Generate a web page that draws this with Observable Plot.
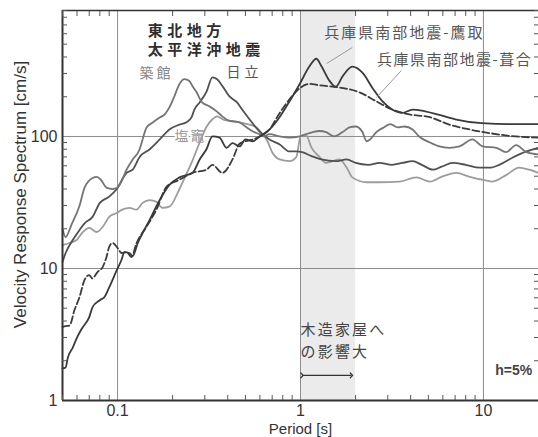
<!DOCTYPE html>
<html><head><meta charset="utf-8">
<script src="https://cdn.jsdelivr.net/npm/d3@7"></script>
<script src="https://cdn.jsdelivr.net/npm/@observablehq/plot@0.6"></script>
<style>
body{margin:0;background:#fff;}
#chart svg{display:block;}
</style></head><body><div id="chart"></div>
<script>
// axes
const xDomain = [0.05, 20];
const yDomain = [1, 900];
const xTickValues = [0.1, 1, 10];
const yTickValues = [1, 10, 100];
const xGridValues = [0.1, 1, 10];
const yGridValues = [10, 100];
const band = [1, 2];

// 築館 (Tsukidate)
const tsukidateT = [0.05,0.052,0.056,0.062,0.066,0.073,0.077,0.081,0.087,0.094,0.1,0.106,0.112,0.121,0.132,0.137,0.144,0.155,0.17,0.181,0.192,0.204,0.218,0.232,0.247,0.257,0.27,0.29,0.318,0.348,0.374,0.409,0.464,0.5,0.55,0.597,0.63,0.677,0.77,0.87,0.99,1.07,1.17,1.27,1.38,1.53,1.7,1.85,2.0,2.18,2.3,2.4,2.6,2.85,3.1,3.4,3.7,4.1,4.45,5.1,5.75,6.5,7.4,8.7,9.9,11.8,13.3,15.1,17.2,20];
const tsukidateV = [20,17.3,21.5,30,41,48.5,49.5,47,41,40,41,47,56,67,80,95,117,127,139,147,166,200,250,272,263,240,217,181,169,155,142,131,128,119,109,104,100,104,100,98,100,104,108,110,108,100,108,117,119,108,92,95,108,117,124,117,119,113,100,90,84,82,84,95,84,82,76,86,76,73];

// 日立 (Hitachi)
const hitachiT = [0.05,0.052,0.057,0.062,0.066,0.073,0.08,0.09,0.099,0.112,0.121,0.132,0.15,0.17,0.192,0.218,0.238,0.254,0.263,0.281,0.306,0.33,0.35,0.374,0.409,0.45,0.48,0.526,0.597,0.677,0.77,0.87,0.95,1.02,1.15,1.3,1.56,1.79,2.0,2.35,2.7,3.17,3.6,4.1,4.6,5.3,5.9,6.8,8.0,9.5,10.8,12.2,14.4,17.2,20];
const hitachiV = [11.2,13.1,16.5,19.6,22,24.6,31.4,35,40,53,56,70,80,95,113,123,128,140,160,181,218,280,271,241,201,181,160,135,109,95,87,77,77,76,71,67,65,67,63,61,63,61,63,65,61,56,59,63,61,58,58,61,69,77,82];

// 塩竈 (Shiogama)
const shiogamaT = [0.05,0.0547,0.06,0.064,0.07,0.077,0.083,0.09,0.099,0.106,0.116,0.127,0.137,0.15,0.163,0.176,0.192,0.218,0.238,0.257,0.281,0.306,0.33,0.35,0.384,0.425,0.464,0.526,0.575,0.62,0.66,0.7,0.77,0.87,0.95,1.0,1.07,1.15,1.27,1.38,1.63,1.79,1.92,2.3,2.7,3.48,4.3,5.1,5.9,7.1,8.4,9.9,11.1,13.3,15.7,17.8,20];
const shiogamaV = [15,15.6,16.5,18.6,20.3,18.9,20.7,24.6,26.3,27.9,28.8,27.9,31.4,33,32,28.8,29.4,40,52,66,90,118,135,142,133,131,128,123,117,104,92,76,67,65,70,100,103,82,70,63,67,58,49,45,45,45.5,49,45.5,49.5,53,49.5,47,45.5,51,58,56,53];

// 兵庫県南部地震-鷹取 (Takatori)
const takatoriT = [0.05,0.052,0.0535,0.057,0.06,0.064,0.07,0.073,0.08,0.085,0.09,0.099,0.105,0.109,0.116,0.121,0.129,0.15,0.17,0.192,0.218,0.257,0.281,0.306,0.33,0.361,0.394,0.425,0.464,0.5,0.55,0.597,0.677,0.768,0.87,0.99,1.12,1.22,1.3,1.43,1.56,1.7,1.92,2.18,2.5,2.8,3.17,3.6,4.1,4.8,5.6,7.0,9.8,13.9,20];
const takatoriV = [1.75,1.78,2.12,2.53,3.0,3.53,4.28,5.1,5.75,6.1,7.2,9.7,11.6,13.3,13.1,12.4,15.6,23.4,33,43,49,53,67,80,100,98,82,89,84,95,92,100,113,140,184,250,340,388,342,268,238,286,338,304,228,185,160,151,160,155,147,135,126,124,124];

// 兵庫県南部地震-葺合 (Fukiai)
const fukiaiT = [0.05,0.052,0.0547,0.058,0.062,0.066,0.07,0.0727,0.0777,0.083,0.087,0.09,0.094,0.1,0.105,0.112,0.119,0.127,0.144,0.163,0.185,0.218,0.257,0.306,0.33,0.374,0.425,0.464,0.5,0.55,0.6,0.677,0.768,0.87,0.99,1.12,1.27,1.63,2.1,2.59,3.17,3.94,5.1,6.5,8.4,10.4,13.9,20];
const fukiaiV = [3.6,3.66,3.7,4.8,6.1,8.2,8.9,8.4,9.4,10.3,12.2,14.6,15.6,14.3,13.1,13.3,12.2,15.6,20.7,27.9,41.5,47,53,56,61,53,67,88,92,95,100,113,150,191,232,250,244,235,216,185,160,147,140,123,113,107,101,98];

// labels
const titleLines = ["東北地方", "太平洋沖地震"];
const stationLabels = ["築館", "日立", "塩竈"];
const kobeLabels = ["兵庫県南部地震-鷹取", "兵庫県南部地震-葺合"];
const noteLines = ["木造家屋へ", "の影響大"];
const dampingLabel = "h=5%";
const xLabel = "Period [s]";
const yLabel = "Velocity Response Spectrum [cm/s]";

const toRows = (T, V) => T.map((t, i) => ({period: t, value: V[i]}));

const minorX = [0.01, 0.1, 1, 10].flatMap(d => [2,3,4,5,6,7,8,9].map(k => +(k * d).toPrecision(3))).filter(v => v >= xDomain[0] && v <= xDomain[1]);
const minorY = [1, 10, 100].flatMap(d => [2,3,4,5,6,7,8,9].map(k => k * d)).filter(v => v <= yDomain[1]);

const cjk = "'Noto Sans CJK JP', 'Noto Sans CJK SC', sans-serif";
const lineOpts = {x: "period", y: "value", strokeWidth: 1.8, curve: "monotone-x"};
const lbl = (txt, x, y, o) => Plot.text([txt], {x: () => x, y: () => y, textAnchor: "start", fontFamily: cjk, ...o});

const chart = Plot.plot({
  width: 538, height: 437,
  marginLeft: 62, marginRight: 0, marginTop: 10, marginBottom: 37,
  x: {type: "log", domain: xDomain, label: null},
  y: {type: "log", domain: yDomain, label: null},
  style: {fontFamily: "'Liberation Sans', Arial, sans-serif", fontSize: "16px", color: "#333", background: "#fff"},
  marks: [
    Plot.rect([band], {x1: d => d[0], x2: d => d[1], fill: "#ebebeb"}),
    Plot.gridX(xGridValues, {stroke: "#8c8c8c", strokeOpacity: 1, strokeWidth: 1}),
    Plot.gridY(yGridValues, {stroke: "#8c8c8c", strokeOpacity: 1, strokeWidth: 1}),
    lbl(stationLabels[2], 0.205, 100, {fill: "#9a9a9a", fontSize: 14, stroke: "#fff", strokeWidth: 4}),
    Plot.line(toRows(shiogamaT, shiogamaV), {...lineOpts, stroke: "#9c9c9c"}),
    Plot.line(toRows(hitachiT, hitachiV), {...lineOpts, stroke: "#505050"}),
    Plot.line(toRows(tsukidateT, tsukidateV), {...lineOpts, stroke: "#747474"}),
    Plot.line(toRows(fukiaiT, fukiaiV), {...lineOpts, stroke: "#3c3c3c", strokeDasharray: "7,3"}),
    Plot.line(toRows(takatoriT, takatoriV), {...lineOpts, stroke: "#3a3a3a"}),
    Plot.ruleX([xDomain[0]], {stroke: "#333", strokeWidth: 2}),
    Plot.ruleY([yDomain[0]], {stroke: "#333", strokeWidth: 2}),
    Plot.ruleY([yDomain[1]], {stroke: "#333", strokeWidth: 1.5}),
    Plot.axisX(minorX, {anchor: "bottom", tickSize: 5, dy: -5, tickFormat: () => "", label: null, stroke: "#555"}),
    Plot.axisX(minorX, {anchor: "top", tickSize: 5, dy: 5, tickFormat: () => "", label: null, stroke: "#555"}),
    Plot.axisY(minorY, {anchor: "left", tickSize: 5, dx: 5, tickFormat: () => "", label: null, stroke: "#555"}),
    Plot.axisY(minorY, {anchor: "right", tickSize: 5, dx: -5, tickFormat: () => "", label: null, stroke: "#555"}),
    Plot.axisX(xTickValues, {anchor: "bottom", tickSize: 0, tickPadding: 4, tickFormat: d => String(d), label: null, fontSize: 16, fill: "#333"}),
    Plot.axisY(yTickValues, {anchor: "left", tickSize: 0, tickPadding: 5, tickFormat: d => String(d), label: null, fontSize: 16, fill: "#333"}),
    Plot.text([xLabel], {frameAnchor: "bottom", textAnchor: "middle", lineAnchor: "middle", dy: 29, fontSize: 15, fill: "#333"}),
    Plot.text([yLabel], {frameAnchor: "left", textAnchor: "middle", lineAnchor: "middle", rotate: -90, dx: -42, dy: -11, fontSize: 17, fill: "#333"}),
    lbl(titleLines[0], 0.146, 625, {fill: "#2e2e2e", fontSize: 15, fontWeight: "bold"}),
    lbl(titleLines[1], 0.146, 448, {fill: "#2e2e2e", fontSize: 15, fontWeight: "bold"}),
    lbl(stationLabels[0], 0.132, 300, {fill: "#888", fontSize: 14}),
    lbl(stationLabels[1], 0.394, 305, {fill: "#555", fontSize: 14}),
    lbl(kobeLabels[0], 1.35, 603, {fill: "#555", fontSize: 15}),
    lbl(kobeLabels[1], 2.62, 377, {fill: "#555", fontSize: 15}),
    Plot.link([0], {x1: () => 1.92, y1: () => 472, x2: () => 1.39, y2: () => 357, stroke: "#999", strokeWidth: 1}),
    Plot.link([0], {x1: () => 3.56, y1: () => 316, x2: () => 2.60, y2: () => 197, stroke: "#999", strokeWidth: 1}),
    lbl(noteLines[0], 1.0, 3.39, {fill: "#444", fontSize: 15}),
    lbl(noteLines[1], 1.0, 2.31, {fill: "#444", fontSize: 15}),
    Plot.link([0], {x1: () => 1.02, y1: () => 1.55, x2: () => 1.9, y2: () => 1.55, stroke: "#333", strokeWidth: 1.2, marker: "arrow"}),
    Plot.text([dampingLabel], {x: () => 11.6, y: () => 1.69, textAnchor: "start", fontSize: 14, fill: "#444", fontWeight: "bold"})
  ]
});

const spacing = {"東北地方": 4.5, "太平洋沖地震": 4.5, "築館": 3, "日立": 4, "塩竈": 2, "兵庫県南部地震-鷹取": 2, "兵庫県南部地震-葺合": 1.5, "木造家屋へ": 2.2, "の影響大": 2.2};
d3.select(chart).selectAll("text").each(function() {
  const s = spacing[this.textContent];
  if (s != null) this.setAttribute("letter-spacing", s);
});
document.getElementById("chart").appendChild(chart);
</script></body></html>
